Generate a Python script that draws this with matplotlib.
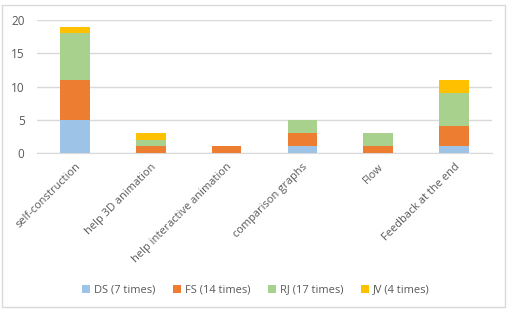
import matplotlib
matplotlib.use("Agg")
import matplotlib.pyplot as plt
from matplotlib.patches import Rectangle
import numpy as np

categories = ["self-construction", "help 3D animation", "help interactive animation",
              "comparison graphs", "Flow", "Feedback at the end"]
series_names = ["DS (7 times)", "FS (14 times)", "RJ (17 times)", "JV (4 times)"]
ds = [5, 0, 0, 1, 0, 1]
fs = [6, 1, 1, 2, 1, 3]
rj = [7, 1, 0, 2, 2, 5]
jv = [1, 1, 0, 0, 0, 2]
yticks = [0, 5, 10, 15, 20]
colors = ["#9DC3E6", "#ED7D31", "#A9D18E", "#FFC000"]

plt.rcParams['font.family'] = ['Open Sans', 'DejaVu Sans']
text_color = "#595959"

fig = plt.figure(figsize=(5.08, 3.12), dpi=100)
fig.patches.append(Rectangle((2/508, 5/312), 503/508, 302/312, transform=fig.transFigure,
                             fill=False, edgecolor="#D9D9D9", linewidth=1.0))
ax = fig.add_axes([37/508, 1 - 153/312, 455/508, 133/312])

x = np.arange(len(categories))
bottom = np.zeros(len(categories))
for vals, name, c in zip([ds, fs, rj, jv], series_names, colors):
    ax.bar(x, vals, width=0.39, bottom=bottom, color=c, label=name, zorder=3)
    bottom += np.array(vals)

ax.set_xlim(-0.5, len(categories) - 0.5)
ax.set_ylim(0, 20)
ax.set_yticks(yticks)
ax.yaxis.grid(True, color="#D9D9D9", linewidth=1.0, zorder=0)
for s in ["top", "right", "left"]:
    ax.spines[s].set_visible(False)
ax.spines["bottom"].set_color("#D9D9D9")
ax.tick_params(axis="y", length=0, colors=text_color, labelsize=8.5, pad=9)
ax.set_xticks(x)
ax.set_xticklabels(categories, rotation=45, ha="right", rotation_mode="anchor", color=text_color)
ax.tick_params(axis="x", length=0, colors=text_color, labelsize=7.9, pad=6)

leg = fig.legend(loc="center", bbox_to_anchor=(256/508, 1 - 290/312), ncol=4, frameon=False,
                 fontsize=7.9, handlelength=0.7, handleheight=0.7, columnspacing=1.6,
                 handletextpad=0.4)
for t in leg.get_texts():
    t.set_color(text_color)

fig.savefig("out.png", dpi=100)
